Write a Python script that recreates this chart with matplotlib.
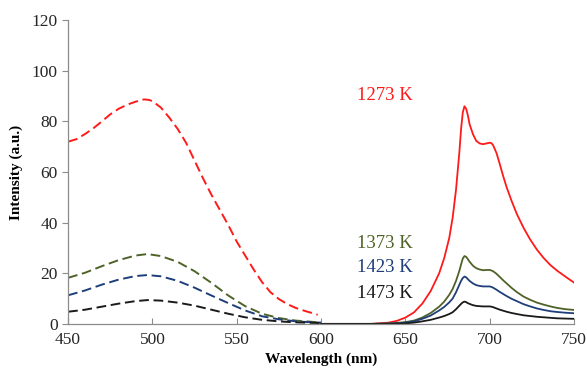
import matplotlib
matplotlib.use("Agg")
import matplotlib.pyplot as plt

plt.rcParams["font.family"] = ["Liberation Serif", "DejaVu Serif"]

RED = "#ff1a1a"
GREEN = "#4f6228"
BLUE = "#1f3f7a"
BLACK = "#1a1a1a"

# excitation spectra (dashed)
exc_red_x = [450, 455, 460, 465, 470, 475, 480, 485, 490, 495, 498, 500, 505, 510, 515, 520,
             525, 530, 535, 540, 545, 550, 555, 560, 565, 570, 575, 580, 585, 590, 595, 598]
exc_red_y = [72, 73, 75, 77.3, 80, 82.8, 85, 86.6, 87.8, 88.7, 88.5, 88, 85.5, 81.5, 77, 71.5,
             64.5, 57.5, 51, 45, 39, 32.5, 27, 21.5, 16.5, 12.5, 9.8, 7.8, 6.3, 5.2, 4.2, 3.6]

exc_x = [450, 460, 470, 480, 490, 497, 505, 515, 525, 535, 545, 555, 565, 575, 585, 595, 600]
exc_green_y = [18.2, 20.2, 22.8, 25.2, 27, 27.6, 26.8, 24.5, 20.8, 16.2, 11.2, 7, 4, 2.3, 1.3, 0.8, 0.6]
exc_blue_y = [11.3, 13.2, 15.5, 17.5, 18.9, 19.3, 18.8, 17, 14.3, 11.2, 8.2, 5.3, 3, 1.8, 1, 0.6, 0.5]
exc_black_y = [4.8, 5.6, 6.8, 8, 9, 9.4, 9.2, 8.4, 7.2, 5.6, 4, 2.6, 1.6, 1, 0.6, 0.4, 0.3]

# emission spectra (solid)
em_x = [600, 630, 640, 645, 650, 655, 660, 665, 670, 673, 676, 678, 680, 682, 683, 684, 685, 686,
        687, 688, 690, 692, 694, 696, 698, 700, 701, 702, 704, 706, 708, 710, 713, 716, 720, 724,
        728, 732, 736, 740, 745, 750]
em_red_y = [0, 0, 0.5, 1.2, 2.5, 4.5, 8, 13, 20, 26, 34, 42, 53, 68, 77, 83.5, 86, 85,
            82.5, 79, 75, 72.3, 71.3, 71, 71.3, 71.6, 71.4, 70.6, 67.5, 63, 58.3, 54, 48.5, 43.5, 38, 33.3,
            29.3, 26, 23.2, 21, 18.6, 16.3]
em_green_y = [0, 0, 0.2, 0.4, 0.7, 1.3, 2.5, 4.3, 6.8, 8.8, 11.5, 13.8, 17, 21, 23.5, 25.8, 26.8, 26.5,
              25.6, 24.6, 23, 22, 21.5, 21.2, 21.3, 21.3, 21.1, 20.8, 19.8, 18.5, 17.2, 16, 14.2, 12.6, 10.8, 9.5,
              8.4, 7.6, 6.9, 6.3, 5.8, 5.5]
em_blue_y = [0, 0, 0.1, 0.2, 0.5, 1, 2, 3.3, 5.3, 6.7, 8.5, 10, 12.5, 15.5, 17, 18.1, 18.7, 18.4,
             17.7, 17, 16, 15.3, 15, 14.8, 14.8, 14.8, 14.6, 14.3, 13.5, 12.6, 11.8, 11, 9.9, 9, 7.8, 6.9,
             6.1, 5.5, 5, 4.7, 4.4, 4.2]
em_black_y = [0, 0, 0, 0.1, 0.2, 0.5, 1, 1.6, 2.5, 3.1, 3.9, 4.6, 5.8, 7.2, 7.9, 8.5, 8.8, 8.6,
              8.2, 7.9, 7.4, 7.1, 7, 6.9, 6.9, 6.9, 6.8, 6.6, 6.1, 5.6, 5.2, 4.8, 4.3, 3.9, 3.4, 3.1,
              2.8, 2.6, 2.4, 2.2, 2.1, 2.0]

labels = ["1273 K", "1373 K", "1423 K", "1473 K"]
label_y = [90.4, 31.6, 22.1, 12.2]

colors = [RED, GREEN, BLUE, BLACK]

fig = plt.figure(figsize=(5.87, 3.74), dpi=100)
ax = fig.add_axes([0.116, 0.134, 0.862, 0.812])

dash = (0, (5, 2.4))
ax.plot(exc_red_x, exc_red_y, color=RED, lw=1.4, linestyle=dash)
for y, c in zip([exc_green_y, exc_blue_y, exc_black_y], colors[1:]):
    ax.plot(exc_x, y, color=c, lw=1.4, linestyle=dash)

for y, c in zip([em_red_y, em_green_y, em_blue_y, em_black_y], colors):
    ax.plot(em_x, y, color=c, lw=1.3)

for lab, ly, c in zip(labels, label_y, colors):
    ax.text(621, ly, lab, color=c, fontsize=13.5, va="center", ha="left")

ax.set_xlim(450, 750)
ax.set_ylim(0, 120)
ax.set_xticks(range(450, 751, 50))
ax.set_yticks(range(0, 121, 20))
for s in ["top", "right"]:
    ax.spines[s].set_visible(False)
for s in ["left", "bottom"]:
    ax.spines[s].set_color("#8c8c8c")
    ax.spines[s].set_linewidth(0.9)
ax.tick_params(axis="y", direction="out", length=4, color="#8c8c8c", labelsize=12.5,
               labelcolor="#262626")
ax.tick_params(axis="x", direction="in", length=4, color="#8c8c8c", labelsize=12.5,
               labelcolor="#262626", pad=6)

ax.set_xlabel("Wavelength (nm)", fontsize=11, fontweight="bold", labelpad=3)
ax.set_ylabel("Intensity (a.u.)", fontsize=11, fontweight="bold", labelpad=6)

fig.savefig("out.png", dpi=100)
